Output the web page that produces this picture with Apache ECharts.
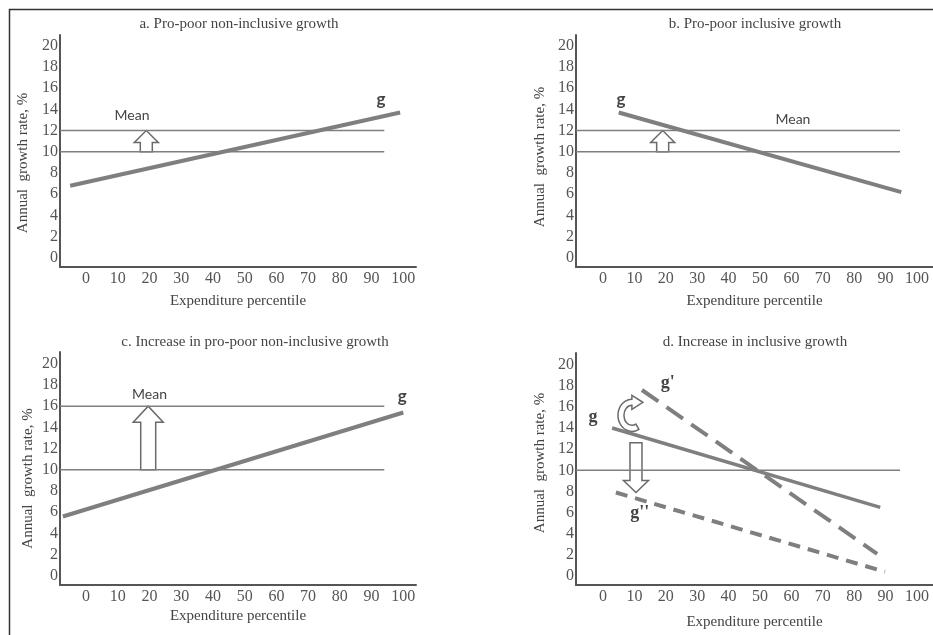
<!DOCTYPE html>
<html>
<head>
<meta charset="utf-8">
<script src="https://cdn.jsdelivr.net/npm/echarts@6/dist/echarts.min.js"></script>
<style>
  html, body { margin: 0; padding: 0; background: #fff; }
  #chart { width: 933px; height: 635px; }
</style>
</head>
<body>
<div id="chart"></div>
<script>
// tick labels
const percentileTicks = [0, 10, 20, 30, 40, 50, 60, 70, 80, 90, 100]
const rateTicks = [0, 2, 4, 6, 8, 10, 12, 14, 16, 18, 20]

// a. Pro-poor non-inclusive growth
const gA = [[-5, 6.8], [99, 13.7]]
const meanOldA = [[-8.2, 10], [94, 10]]
const meanNewA = [[-8.2, 12], [94, 12]]
const arrowsA = [[19, 10, 12]]
const labelsA = [[14.5, 13.4, 'Mean'], [93, 14.9, 'g']]

// b. Pro-poor inclusive growth
const gB = [[5, 13.7], [95, 6.2]]
const meanOldB = [[-8.6, 10], [94.6, 10]]
const meanNewB = [[-8.6, 12], [94.6, 12]]
const arrowsB = [[19, 10, 12]]
const labelsB = [[60.5, 13.0, 'Mean'], [5.7, 14.9, 'g']]

// c. Increase in pro-poor non-inclusive growth
const gC = [[-7.3, 5.6], [100, 15.4]]
const meanOldC = [[-8.2, 10], [94, 10]]
const meanNewC = [[-8.2, 16], [94, 16]]
const arrowsC = [[19.6, 10, 16]]
const labelsC = [[20, 17.1, 'Mean'], [99.7, 16.9, 'g']]

// d. Increase in inclusive growth
const gD = [[2.9, 14.0], [88.3, 6.5]]
const gPrimeD = [[12.4, 17.6], [87.3, 2.1]]
const gDoubleD = [[4.1, 7.9], [89.8, 0.4]]
const meanD = [[-8.6, 10], [94.6, 10]]
const arrowsD = [[10.5, 12.6, 7.9]]
const curveD = [[9.2, 15.2]]
const labelsD = [[-3.2, 15.0, 'g'], [20.6, 18.2, "g'"], [11.7, 5.9, "g''"]]

const GREY = '#7f7f7f'
const AXIS = '#555'
const SERIF = '"Liberation Serif", "DejaVu Serif", serif'
const SANS = 'Lato, "Open Sans", sans-serif'

const panels = [
  { title: 'a. Pro-poor non-inclusive growth', tx: 239, ty: 17,
    grid: { left: 60, top: 35, width: 356, height: 232 }, x: [-8.2, 104], y: [-0.85, 21],
    yGap: 29, yPad: [0, 24, 0, 0], xGap: 27 },
  { title: 'b. Pro-poor inclusive growth', tx: 755, ty: 17,
    grid: { left: 576, top: 35, width: 357, height: 232 }, x: [-8.6, 105.1], y: [-0.85, 21],
    yGap: 28, yPad: [0, 12, 0, 0], xGap: 27 },
  { title: 'c. Increase in pro-poor non-inclusive growth', tx: 255, ty: 335,
    grid: { left: 60, top: 352, width: 356, height: 233 }, x: [-8.2, 104], y: [-0.85, 21.1],
    yGap: 24, yPad: [0, 20, 0, 0], xGap: 24 },
  { title: 'd. Increase in inclusive growth', tx: 755, ty: 335,
    grid: { left: 576, top: 353, width: 357, height: 232 }, x: [-8.6, 105.1], y: [-0.85, 21.1],
    yGap: 28, yPad: [0, 0, 0, 12], xGap: 30 }
]

const lineSeries = (idx, data, width, type = 'solid') => ({
  type: 'line',
  xAxisIndex: idx,
  yAxisIndex: idx,
  data,
  symbol: 'none',
  silent: true,
  lineStyle: { color: GREY, width, type, cap: 'butt' }
})

// hollow straight arrow, from y0 to y1
const arrowSeries = (idx, arrows, sw, hw, hh) => ({
  type: 'custom',
  xAxisIndex: idx,
  yAxisIndex: idx,
  silent: true,
  z: 3,
  data: arrows.map(a => [a[0], a[1], a[2]]),
  renderItem: (params, api) => {
    const a = arrows[params.dataIndex]
    const b = api.coord([a[0], a[1]])
    const t = api.coord([a[0], a[2]])
    const dir = t[1] < b[1] ? -1 : 1
    const hy = t[1] - dir * hh
    const cx = b[0]
    return {
      type: 'polygon',
      shape: {
        points: [
          [cx - sw, b[1]], [cx - sw, hy], [cx - hw, hy], [cx, t[1]],
          [cx + hw, hy], [cx + sw, hy], [cx + sw, b[1]]
        ]
      },
      style: { fill: '#fff', stroke: '#6a6a6a', lineWidth: 1.5 }
    }
  }
})

// hollow curved arrow (panel d)
const curveSeries = (idx, pts) => ({
  type: 'custom',
  xAxisIndex: idx,
  yAxisIndex: idx,
  silent: true,
  z: 3,
  data: pts,
  renderItem: (params, api) => {
    const p = api.coord(pts[params.dataIndex])
    return {
      type: 'path',
      x: p[0],
      y: p[1],
      shape: {
        pathData: 'M 7 13.9 A 14 16 0 1 1 0 -16 L 0 -20 L 11 -13 L 0 -6 L 0 -10 A 8 10 0 1 0 4 8.7 Z'
      },
      style: { fill: '#fff', stroke: '#6a6a6a', lineWidth: 1.5 }
    }
  }
})

const labelSeries = (idx, labels, styleFor) => ({
  type: 'custom',
  xAxisIndex: idx,
  yAxisIndex: idx,
  silent: true,
  z: 4,
  data: labels.map(l => [l[0], l[1]]),
  renderItem: (params, api) => {
    const l = labels[params.dataIndex]
    const p = api.coord([l[0], l[1]])
    return {
      type: 'text',
      x: p[0],
      y: p[1],
      style: Object.assign({ text: l[2], align: 'center', verticalAlign: 'middle' }, styleFor(l[2]))
    }
  }
})

const sansLabel = (t) => t === 'Mean'
  ? { fill: '#444', fontSize: 14, fontFamily: SANS }
  : { fill: '#444', fontSize: 17, fontWeight: 'bold', fontFamily: SANS }
const serifLabel = () => ({ fill: '#444', fontSize: 18, fontWeight: 'bold', fontFamily: SERIF })

const option = {
  animation: false,
  backgroundColor: '#fff',
  title: panels.map(p => ({
    text: p.title,
    left: p.tx,
    top: p.ty,
    textAlign: 'center',
    padding: 0,
    textStyle: { color: '#444', fontSize: 15, fontWeight: 'normal', fontFamily: SERIF }
  })),
  grid: panels.map(p => Object.assign({ containLabel: false }, p.grid)),
  xAxis: panels.map((p, i) => ({
    type: 'value',
    gridIndex: i,
    min: p.x[0],
    max: p.x[1],
    name: 'Expenditure percentile',
    nameLocation: 'middle',
    nameGap: p.xGap,
    nameTextStyle: { color: '#444', fontSize: 15, fontFamily: SERIF },
    axisLine: { show: true, onZero: false, lineStyle: { color: AXIS, width: 2 } },
    axisTick: { show: false },
    splitLine: { show: false },
    axisLabel: { customValues: percentileTicks, color: '#555', fontSize: 16, fontFamily: SERIF, margin: 4 }
  })),
  yAxis: panels.map((p, i) => ({
    type: 'value',
    gridIndex: i,
    min: p.y[0],
    max: p.y[1],
    name: 'Annual  growth rate, %',
    nameLocation: 'middle',
    nameGap: p.yGap,
    nameRotate: 90,
    nameTextStyle: { color: '#444', fontSize: 15, fontFamily: SERIF, padding: p.yPad },
    axisLine: { show: true, onZero: false, lineStyle: { color: AXIS, width: 2 } },
    axisTick: { show: false },
    splitLine: { show: false },
    axisLabel: { customValues: rateTicks, color: '#555', fontSize: 16, fontFamily: SERIF, margin: 2 }
  })),
  graphic: [{
    type: 'rect',
    left: 7,
    top: 7,
    shape: { width: 1000, height: 1000 },
    style: { fill: 'none', stroke: '#333', lineWidth: 1.5 },
    silent: true
  }],
  series: [
    // a
    lineSeries(0, meanOldA, 1.5),
    lineSeries(0, meanNewA, 1.5),
    arrowSeries(0, arrowsA, 6, 12, 12),
    lineSeries(0, gA, 4),
    labelSeries(0, labelsA, sansLabel),
    // b
    lineSeries(1, meanOldB, 1.5),
    lineSeries(1, meanNewB, 1.5),
    arrowSeries(1, arrowsB, 6, 12, 12),
    lineSeries(1, gB, 4),
    labelSeries(1, labelsB, sansLabel),
    // c
    lineSeries(2, meanOldC, 1.5),
    lineSeries(2, meanNewC, 1.5),
    arrowSeries(2, arrowsC, 7.5, 15, 16),
    lineSeries(2, gC, 4),
    labelSeries(2, labelsC, sansLabel),
    // d
    lineSeries(3, meanD, 1.5),
    lineSeries(3, gD, 3.5),
    lineSeries(3, gPrimeD, 4, [20, 10]),
    lineSeries(3, gDoubleD, 4, [12, 8]),
    arrowSeries(3, arrowsD, 6, 12.5, 12),
    curveSeries(3, curveD),
    labelSeries(3, labelsD, serifLabel)
  ]
}

const chart = echarts.init(document.getElementById('chart'), null, { renderer: 'canvas' })
chart.setOption(option)
</script>
</body>
</html>
